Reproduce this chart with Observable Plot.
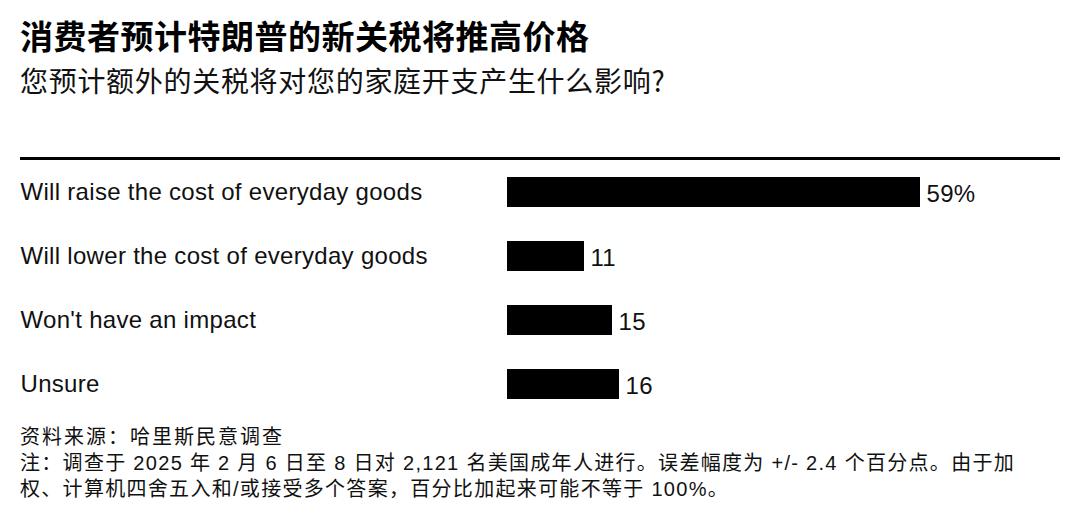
<!DOCTYPE html>
<html>
<head>
<meta charset="utf-8">
<script src="https://cdn.jsdelivr.net/npm/d3@7"></script>
<script src="https://cdn.jsdelivr.net/npm/@observablehq/plot@0.6"></script>
<style>
  body { margin: 0; background: #fff; font-family: "Noto Sans CJK SC", "Liberation Sans", sans-serif; color: #000; }
  #wrap { width: 1080px; height: 524px; position: relative; overflow: hidden; }
  #title { position: absolute; left: 20px; top: 12px; font-size: 33px; letter-spacing: 0.5px; font-weight: 700; line-height: 46px; white-space: nowrap; }
  #subtitle { position: absolute; left: 20px; top: 60px; font-size: 28px; letter-spacing: 0.7px; font-weight: 400; line-height: 40px; color: #111; white-space: nowrap; }
  #rule { position: absolute; left: 20px; top: 157px; width: 1040px; height: 3px; background: #000; }
  #chart { position: absolute; left: 0; top: 160px; }
  #foot { position: absolute; left: 20px; top: 424px; font-family: "Liberation Sans", "Noto Sans CJK SC", sans-serif; font-size: 20px; letter-spacing: 1.3px; line-height: 26px; color: #111; width: 1060px; white-space: nowrap; }
  #foot .l1 { letter-spacing: 2px; }
</style>
</head>
<body>
<div id="wrap">
  <div id="title">消费者预计特朗普的新关税将推高价格</div>
  <div id="subtitle">您预计额外的关税将对您的家庭开支产生什么影响?</div>
  <div id="rule"></div>
  <div id="chart"></div>
  <div id="foot"><span class="l1">资料来源：哈里斯民意调查</span><br>注：调查于 2025 年 2 月 6 日至 8 日对 2,121 名美国成年人进行。误差幅度为 +/- 2.4 个百分点。由于加<br>权、计算机四舍五入和/或接受多个答案，百分比加起来可能不等于 100%。</div>
</div>
<script>
const categories = [
  "Will raise the cost of everyday goods",
  "Will lower the cost of everyday goods",
  "Won't have an impact",
  "Unsure"
];
const values = [59, 11, 15, 16];
const valueLabels = ["59%", "11", "15", "16"];

const data = categories.map((c, i) => ({category: c, value: values[i], label: valueLabels[i]}));

const chart = Plot.plot({
  width: 1080,
  height: 256,
  marginLeft: 507,
  marginRight: 20,
  marginTop: 0,
  marginBottom: 0,
  style: {fontFamily: "'Liberation Sans', Arial, sans-serif", fontSize: "24px", letterSpacing: "0.3px", color: "#000", background: "#fff"},
  x: {domain: [0, 79], axis: null},
  y: {domain: categories, paddingInner: 0.53, paddingOuter: 0.265, label: null},
  marks: [
    Plot.barX(data, {x: "value", y: "category", fill: "#000"}),
    Plot.text(data, {x: "value", y: "category", text: "label", textAnchor: "start", dx: 6, dy: 2, fontSize: 24, fill: "#111"}),
    Plot.axisY({tickSize: 0, tickPadding: 487, textAnchor: "start", fontSize: 24, label: null, fill: "#111"})
  ]
});
document.getElementById("chart").appendChild(chart);
</script>
</body>
</html>
